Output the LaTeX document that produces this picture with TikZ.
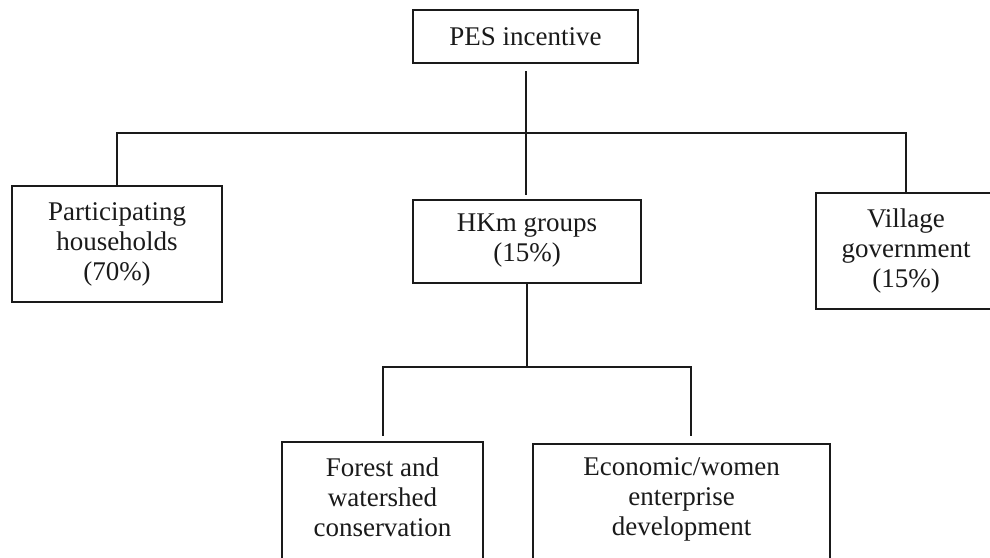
\documentclass[tikz,border=0pt]{standalone}
\usepackage{fontspec}
\setmainfont{Liberation Serif}
\usetikzlibrary{positioning, calc}
\definecolor{ink}{HTML}{1A1A1A}

\begin{document}
\begin{tikzpicture}[
  x=0.5pt, y=-0.5pt,
  box/.style={draw=ink, line width=1pt, align=center, text=ink,
    font=\fontsize{13.5}{15}\selectfont, inner sep=0pt},
  link/.style={draw=ink, line width=1pt},
]

% Frame: 990 x 557 px, 1 px = 0.5pt
\clip (0,0) rectangle (990,557);

% --- Top ---
\node[box, minimum width=112.5pt, minimum height=26.5pt] (pes) at (525.5,36.5)
  {PES incentive};

% --- Second row ---
\node[box, minimum width=105pt, minimum height=58pt] (hh) at (117,244)
  {Participating\\households\\(70\%)};
\node[box, minimum width=114pt, minimum height=41.5pt] (hkm) at (527,241)
  {HKm groups\\(15\%)};
\node[box, minimum width=90pt, minimum height=58pt] (vil) at (906,251)
  {Village\\government\\(15\%)};

% --- Third row (cut by the frame) ---
\node[box, minimum width=100.5pt, minimum height=62pt, text depth=7pt] (forest) at (382.5,504)
  {Forest and\\watershed\\conservation};
\node[box, minimum width=148.5pt, minimum height=62pt, text depth=9pt] (econ) at (681.5,506)
  {Economic/women\\enterprise\\development};

% --- Junctions ---
\coordinate (split) at (525,133);
\coordinate (subsplit) at (527,367);
\coordinate (econtop) at ($(econ.north)+(9.5,0)$);

% --- Connectors ---
\draw[link, shorten <=3.5pt, shorten >=2pt] (pes.south) -- (pes.south |- hkm.north);
\draw[link] (hh.north) |- (split) -| (vil.north);
\draw[link, shorten >=2.5pt] (hkm.south) -- (subsplit) -| (forest.north);
\draw[link, shorten >=3.5pt] (subsplit) -| (econtop);

\end{tikzpicture}
\end{document}
